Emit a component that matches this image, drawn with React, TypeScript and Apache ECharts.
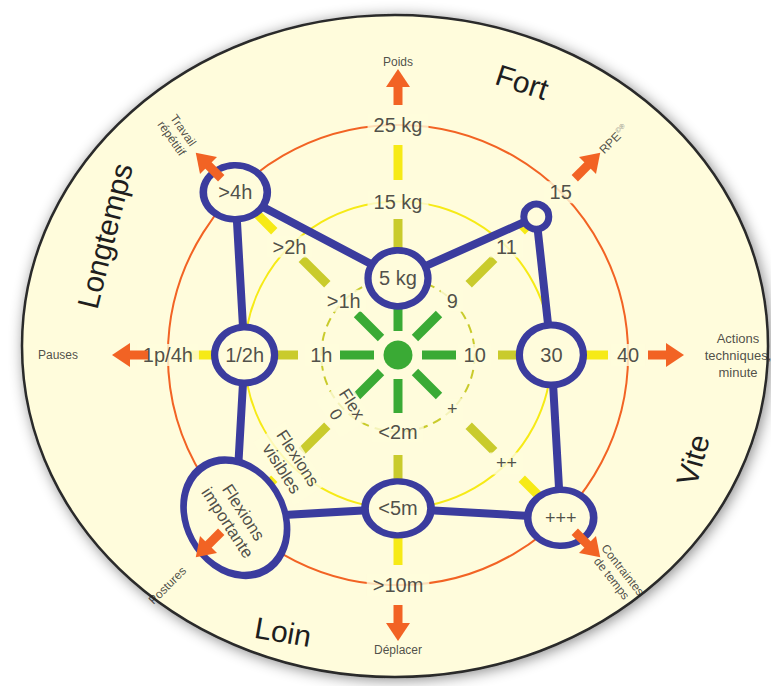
import React, { useEffect, useRef } from 'react';
import * as echarts from 'echarts';

// ---------- data ----------
const axisNames = ['Poids', 'RPE©®', 'Actions\ntechniques,\nminute', 'Contraintes\nde temps', 'Déplacer', 'Postures', 'Pauses', 'Travail\nrépétitif'];
const axisAngles = [0, 45, 90, 135, 180, 225, 270, 315];
const level1Labels = ['5 kg', '9', '10', '+', '<2m', 'Flex\n0', '1h', '>1h'];
const level2Labels = ['15 kg', '11', '30', '++', '<5m', 'Flexions\nvisibles', '1/2h', '>2h'];
const level3Labels = ['25 kg', '15', '40', '+++', '>10m', 'Flexions\nimportante', '1p/4h', '>4h'];
const profileLevels = [1, 2.55, 2, 3, 2, 3, 2, 3];
const quadrantWords = ['Fort', 'Vite', 'Loin', 'Longtemps'];

// ---------- layout / style ----------
const CX = 398;
const CY = 355;
const U = 76.7; // px per level
const FONT = '"Liberation Sans", Arial, sans-serif';
const BEIGE = '#fffcdc';
const GREEN = '#3aaa35';
const OLIVE = '#c9cb2c';
const YELLOW = '#f6ea16';
const ORANGE = '#f26324';
const BLUE = '#3b3c9e';
const TEXT = '#222222';

const segments = [
  { from: 24, to: 58, color: GREEN, z: 2 },
  { from: 100, to: 136, color: OLIVE, z: 2 },
  { from: 175, to: 210, color: YELLOW, z: 2 },
  { from: 250, to: 270, color: ORANGE, z: 6 },
];
const nameRadiusPx = [293, 305, 340, 310, 295, 326, 340, 312];
const nameRotate = [0, 45, 0, -52, 0, 45, 0, -55];
const labelRotate = [0, 0, 0, 0, 0, -57, 0, 0];
const ringSizes: (number | number[])[] = [[60, 56], 25, [64, 60], [66, 56], [66, 54], [121, 97], [60, 56], [64, 54]];
const ringRotate = [0, 0, 0, 0, 0, -60, 0, 0];
const wordPos = [
  { x: 522, y: 82, r: -18 },
  { x: 693, y: 460, r: 74 },
  { x: 283, y: 632, r: -10 },
  { x: 105, y: 236, r: 76 },
];

function textSeries(data: any[], z: number, bg: boolean): any {
  return {
    type: 'scatter',
    coordinateSystem: 'polar',
    polarIndex: 0,
    silent: true,
    symbolSize: 1,
    z,
    itemStyle: { color: 'rgba(0,0,0,0)' },
    label: {
      show: true,
      position: 'inside',
      formatter: (p: any) => p.name,
      color: TEXT,
      textBorderWidth: 0,
      fontFamily: FONT,
      fontSize: 20,
      backgroundColor: bg ? BEIGE : 'transparent',
      padding: bg ? [0, 6] : 0,
    },
    data,
  };
}

function buildOption(): any {
  const levels = [level1Labels, level2Labels, level3Labels];
  const polars = [5, 1, 2, 3].map((m) => ({ center: [CX, CY], radius: m * U }));
  const circleStyles = [
    null,
    { color: OLIVE, width: 2, type: [9, 6] },
    { color: YELLOW, width: 2, type: 'solid' },
    { color: ORANGE, width: 2, type: 'solid' },
  ];
  const angleAxis = polars.map((_, i) => ({
    polarIndex: i,
    type: 'value',
    min: 0,
    max: 360,
    startAngle: 90,
    clockwise: true,
    axisLine: { show: i > 0, lineStyle: circleStyles[i] || {} },
    axisTick: { show: false },
    axisLabel: { show: false },
    splitLine: { show: false },
  }));
  const radiusAxis = polars.map((_, i) => ({
    polarIndex: i,
    type: 'value',
    min: 0,
    max: i === 0 ? 5 : 1,
    axisLine: { show: false },
    axisTick: { show: false },
    axisLabel: { show: false },
    splitLine: { show: false },
  }));

  const series: any[] = [];
  // spokes
  axisAngles.forEach((a) => {
    segments.forEach((s) => {
      series.push({
        type: 'line',
        coordinateSystem: 'polar',
        polarIndex: 0,
        silent: true,
        symbol: 'none',
        z: s.z,
        lineStyle: { color: s.color, width: 9, cap: 'butt', opacity: 1 },
        data: [[s.from / U, a], [s.to / U, a]],
      });
    });
  });
  // arrow heads
  series.push({
    type: 'scatter',
    coordinateSystem: 'polar',
    polarIndex: 0,
    silent: true,
    symbol: 'triangle',
    symbolSize: [24, 18],
    z: 6,
    itemStyle: { color: ORANGE, opacity: 1 },
    data: axisAngles.map((a) => ({ value: [277 / U, a], symbolRotate: -a })),
  });
  // center dot
  series.push({
    type: 'scatter',
    coordinateSystem: 'polar',
    polarIndex: 0,
    silent: true,
    symbolSize: 29,
    z: 2,
    itemStyle: { color: GREEN, opacity: 1 },
    data: [[0, 0]],
  });
  // level labels
  const lvlData: any[] = [];
  const ringText: any[] = [];
  levels.forEach((arr, li) => {
    arr.forEach((txt, i) => {
      const rot = labelRotate[i];
      const item = {
        name: txt,
        value: [li + 1, axisAngles[i]],
        label: { rotate: rot, fontSize: rot ? 17 : txt.startsWith('+') ? 18 : 20, lineHeight: rot ? 19 : 22 },
      };
      if (profileLevels[i] === li + 1) ringText.push(item);
      else lvlData.push(item);
    });
  });
  series.push(textSeries(lvlData, 3, true));
  // axis names
  series.push({
    type: 'scatter',
    coordinateSystem: 'polar',
    polarIndex: 0,
    silent: true,
    symbolSize: 1,
    z: 3,
    itemStyle: { color: 'rgba(0,0,0,0)' },
    label: {
      show: true,
      position: 'inside',
      formatter: (p: any) => p.name.replace('©®', '{s|©®}'),
      color: TEXT,
      textBorderWidth: 0,
      fontFamily: FONT,
      fontSize: 12,
      lineHeight: 15,
      rich: { s: { fontSize: 7, verticalAlign: 'top', color: '#777', fontFamily: FONT, textBorderWidth: 0 } },
    },
    data: axisNames.map((n, i) => ({
      name: n,
      value: [nameRadiusPx[i] / U, axisAngles[i]],
      label: { rotate: nameRotate[i], fontSize: i === 2 ? 13 : 12, lineHeight: i === 2 ? 17 : 14 },
    })),
  });
  // profile polygon
  const poly = profileLevels.map((v, i) => [v, axisAngles[i]]);
  poly.push(poly[0]);
  series.push({
    type: 'line',
    coordinateSystem: 'polar',
    polarIndex: 0,
    silent: true,
    symbol: 'none',
    z: 4,
    lineStyle: { color: BLUE, width: 8, join: 'round', opacity: 1 },
    data: poly,
  });
  // rings
  series.push({
    type: 'scatter',
    coordinateSystem: 'polar',
    polarIndex: 0,
    silent: true,
    symbol: 'circle',
    z: 5,
    itemStyle: { color: BEIGE, borderColor: BLUE, borderWidth: 7, opacity: 1 },
    data: profileLevels.map((v, i) => ({
      value: [v, axisAngles[i]],
      symbolSize: ringSizes[i],
      symbolRotate: ringRotate[i],
    })),
  });
  // text inside rings
  series.push(textSeries(ringText, 7, false));

  const graphic = [
    {
      type: 'ellipse',
      z: -10,
      silent: true,
      shape: { cx: 395, cy: 346, rx: 373, ry: 331 },
      style: {
        fill: BEIGE,
        stroke: '#2a2a2a',
        lineWidth: 2.5,
        shadowBlur: 14,
        shadowColor: 'rgba(0,0,0,0.45)',
        shadowOffsetX: 2,
        shadowOffsetY: 2,
      },
    },
    ...quadrantWords.map((w, i) => ({
      type: 'text',
      z: 10,
      silent: true,
      x: wordPos[i].x,
      y: wordPos[i].y,
      rotation: (wordPos[i].r * Math.PI) / 180,
      style: {
        text: w,
        fill: '#1e1e1e',
        font: `30px ${FONT}`,
        align: 'center',
        verticalAlign: 'middle',
      },
    })),
  ];

  return {
    animation: false,
    backgroundColor: '#ffffff',
    polar: polars,
    angleAxis,
    radiusAxis,
    graphic,
    series,
  };
}

export default function App() {
  const ref = useRef<HTMLDivElement>(null);
  useEffect(() => {
    const chart = echarts.init(ref.current!, null, { renderer: 'svg' });
    chart.setOption(buildOption());
    return () => chart.dispose();
  }, []);
  return (
    <div
      ref={ref}
      style={{ position: 'absolute', left: 0, top: 0, width: 771, height: 686 }}
    />
  );
}
